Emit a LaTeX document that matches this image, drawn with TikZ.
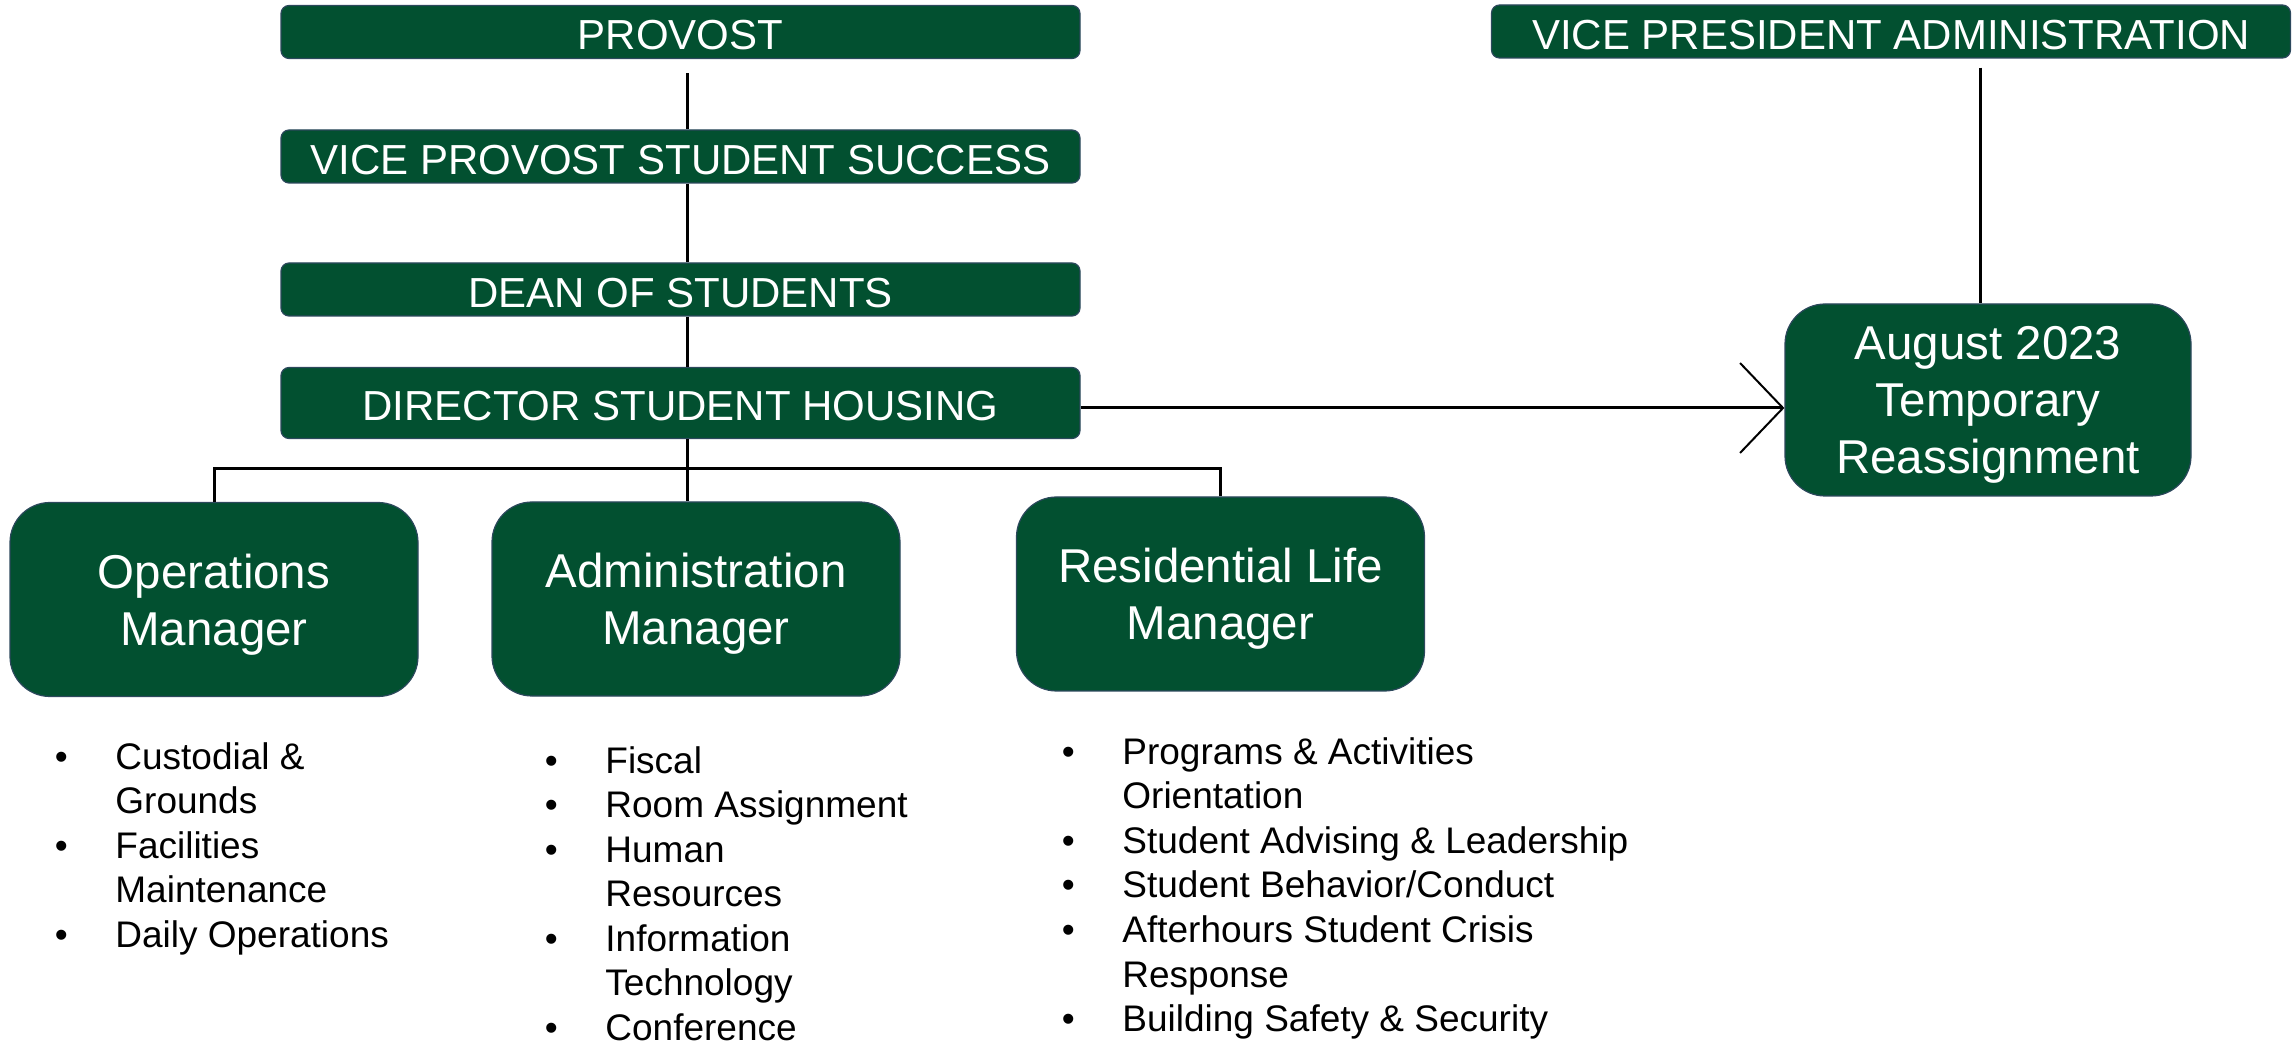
\documentclass[tikz,border=0pt]{standalone}
\usepackage{fontspec}
\setmainfont{Liberation Sans}
\usetikzlibrary{arrows.meta,calc}

\definecolor{boxgreen}{RGB}{2,80,48}
\definecolor{boxedge}{RGB}{44,72,92}

\begin{document}
\begin{tikzpicture}[
  x=0.5pt,y=-0.5pt,
  head/.style={fill=boxgreen,draw=boxedge,line width=0.6pt,rounded corners=4pt,
    minimum width=399.5pt,minimum height=26.5pt,inner sep=0pt,text=white,
    text height=18pt,font=\fontsize{21}{25}\selectfont},
  unit/.style={fill=boxgreen,draw=boxedge,line width=0.6pt,rounded corners=20pt,
    minimum width=204pt,minimum height=97pt,inner sep=0pt,align=center,text=white,
    text depth=-1.5pt,font=\fontsize{23.75}{28.5}\selectfont},
  duties/.style={anchor=base west,inner sep=0pt,font=\fontsize{18.5}{22.3}\selectfont},
  link/.style={line width=1.5pt}]
\useasboundingbox (0,0) rectangle (2292,1042);

% reporting line
\node[head] (provost) at (680.5,32) {PROVOST};
\node[head] (vpss) at (680.5,156.5) {VICE PROVOST STUDENT SUCCESS};
\node[head] (dean) at (680.5,289.5) {DEAN OF STUDENTS};
\node[head,minimum height=35.5pt] (director) at (680.5,403) {DIRECTOR STUDENT HOUSING};
\node[head] (vpadmin) at (1891,31.5) {VICE PRESIDENT ADMINISTRATION};

% managers
\node[unit] (ops) at (214,599.5) {Operations\\Manager};
\node[unit] (admin) at (696,599) {Administration\\Manager};
\node[unit] (res) at (1220.5,594) {Residential Life\\Manager};
\node[unit,minimum width=203pt,minimum height=96pt] (aug) at (1988,400) {August 2023\\Temporary\\Reassignment};

\draw[link] ([xshift=3.25pt,yshift=-7pt]provost.south) -- ([xshift=3.25pt]vpss.north);
\foreach \a/\b in {vpss/dean,dean/director}
  \draw[link] ([xshift=3.25pt]\a.south)--([xshift=3.25pt]\b.north);
\coordinate (bus) at (687,469);
\draw[link] ([xshift=3.25pt]director.south) -- (bus) -- (bus |- admin.north);
\draw[link] (ops.north) |- (bus) -| (res.north);
\draw[link,-{Straight Barb[length=21.5pt,width=45pt,line width=1pt]}]
  ([yshift=-2.5pt]director.east) -- ([yshift=-2.5pt]director.east -| aug.west);
\draw[link] ($(aug.north |- vpadmin.south)+(-8,9)$) -- ($(aug.north)+(-8,0)$);

% duty lists
\node[duties] (opslist) at (54.5,769) {\begin{tabular}[t]{@{}p{30.25pt}@{}l@{}}
  \textbullet & Custodial \& \\
              & Grounds \\
  \textbullet & Facilities \\
              & Maintenance \\
  \textbullet & Daily Operations
\end{tabular}};
\node[duties] (adminlist) at (544.5,773) {\begin{tabular}[t]{@{}p{30.25pt}@{}l@{}}
  \textbullet & Fiscal \\
  \textbullet & Room Assignment \\
  \textbullet & Human \\
              & Resources \\
  \textbullet & Information \\
              & Technology \\
  \textbullet & Conference
\end{tabular}};
\node[duties] (reslist) at (1061.5,764) {\begin{tabular}[t]{@{}p{30.25pt}@{}l@{}}
  \textbullet & Programs \& Activities \\
              & Orientation \\
  \textbullet & Student Advising \& Leadership \\
  \textbullet & Student Behavior/Conduct \\
  \textbullet & Afterhours Student Crisis \\
              & Response \\
  \textbullet & Building Safety \& Security
\end{tabular}};
\end{tikzpicture}
\end{document}
